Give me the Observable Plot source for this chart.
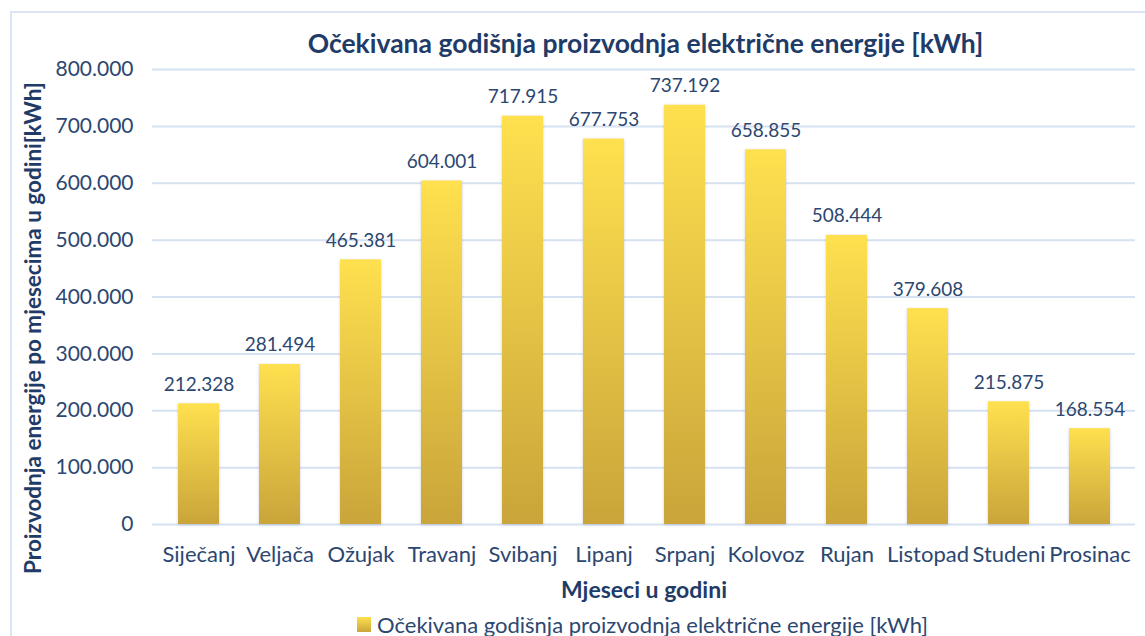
<!DOCTYPE html>
<html>
<head>
<meta charset="utf-8">
<script src="https://cdn.jsdelivr.net/npm/d3@7"></script>
<script src="https://cdn.jsdelivr.net/npm/@observablehq/plot@0.6"></script>
<style>
  html, body { margin: 0; padding: 0; background: #fff; overflow: hidden; }
  body { width: 1145px; height: 636px; position: relative; font-family: Lato, "Open Sans", sans-serif; }
  #frame { position: absolute; left: 10px; top: 11px; width: 1200px; height: 700px; border: 2px solid #dbe5f3; box-sizing: border-box; }
  #title { position: absolute; left: 155px; width: 981px; top: 27px; text-align: center; font-size: 26.5px; font-weight: bold; color: #1f3b68; white-space: nowrap; }
  #chart { position: absolute; left: 0; top: 0; }
  #legend { position: absolute; left: 357px; top: 611px; font-size: 22px; color: #2c4770; white-space: nowrap; display: flex; align-items: center; }
  #legend .sw { width: 14px; height: 15px; margin-right: 6px; background: linear-gradient(#ffe04f, #caa53a); }
</style>
</head>
<body>
<div id="frame"></div>
<div id="title">Očekivana godišnja proizvodnja električne energije [kWh]</div>
<div id="chart"></div>
<div id="legend"><span class="sw"></span><span>Očekivana godišnja proizvodnja električne energije [kWh]</span></div>
<script>
const months = ["Siječanj","Veljača","Ožujak","Travanj","Svibanj","Lipanj","Srpanj","Kolovoz","Rujan","Listopad","Studeni","Prosinac"];
const energy = [212328, 281494, 465381, 604001, 717915, 677753, 737192, 658855, 508444, 379608, 215875, 168554];
const yTicks = [0, 100000, 200000, 300000, 400000, 500000, 600000, 700000, 800000];
const yTitle = "Proizvodnja energije po mjesecima u godini[kWh]";
const xTitle = "Mjeseci u godini";

const data = months.map((m, i) => ({month: m, value: energy[i]}));
const loc = d3.formatLocale({decimal: ",", thousands: ".", grouping: [3], currency: ["", ""]});
const fmt = loc.format(",");
const textColor = "#2c4770";

const plot = Plot.plot({
  width: 1145,
  height: 636,
  marginTop: 69,
  marginBottom: 112,
  marginLeft: 152,
  marginRight: 10,
  style: {fontFamily: "Lato, 'Open Sans', sans-serif", color: textColor, background: "transparent", overflow: "visible"},
  x: {domain: months, paddingInner: 0.5, paddingOuter: 0.25, label: null},
  y: {domain: [0, 800000], label: null},
  marks: [
    Plot.gridY(yTicks, {stroke: "#d6e1f1", strokeOpacity: 1, strokeWidth: 2}),
    Plot.barY(data, {x: "month", y: "value", fill: "url(#barGrad)"}),
    Plot.text(data, {x: "month", y: "value", text: d => fmt(d.value), dy: -19, fontSize: 19, fill: textColor}),
    Plot.axisY(yTicks, {tickSize: 0, tickPadding: 19, tickFormat: fmt, fontSize: 21, fill: textColor, label: null}),
    Plot.axisX({tickSize: 0, tickPadding: 22, fontSize: 22, fill: textColor, label: null}),
    Plot.text([xTitle], {frameAnchor: "bottom", dy: 73, fontSize: 23, fontWeight: "bold", fill: "#1f3b68"}),
    Plot.text([yTitle], {frameAnchor: "left", textAnchor: "middle", dx: -119, dy: 31, rotate: -90, fontSize: 22.5, fontWeight: "bold", fill: "#1f3b68"})
  ]
});

const svg = d3.select(plot);
const defs = svg.insert("defs", ":first-child");
const g = defs.append("linearGradient").attr("id", "barGrad").attr("x1", 0).attr("y1", 0).attr("x2", 0).attr("y2", 1);
g.append("stop").attr("offset", "0%").attr("stop-color", "#ffe04f");
g.append("stop").attr("offset", "100%").attr("stop-color", "#c9a53a");
const f = defs.append("filter").attr("id", "shadow").attr("x", "-20%").attr("y", "-5%").attr("width", "140%").attr("height", "115%");
f.append("feDropShadow").attr("dx", 0).attr("dy", 1).attr("stdDeviation", 1.5).attr("flood-color", "#8a97b0").attr("flood-opacity", 0.45);
svg.selectAll("g[aria-label='bar'] rect").attr("filter", "url(#shadow)");
document.getElementById("chart").appendChild(plot);
</script>
</body>
</html>
